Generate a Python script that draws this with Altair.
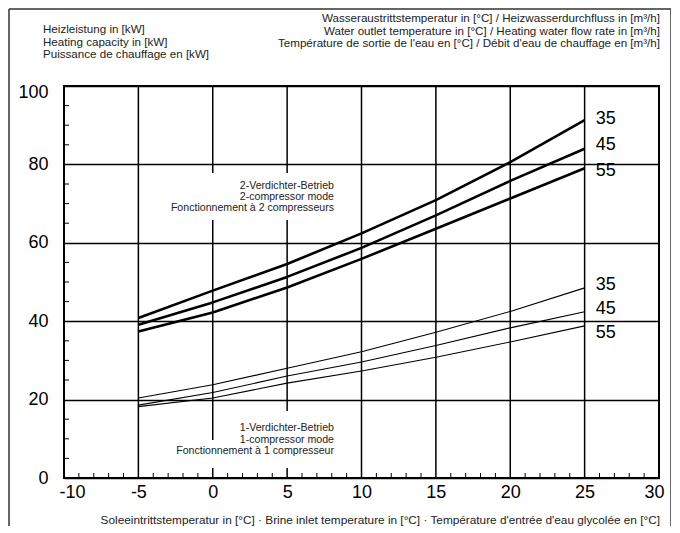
import altair as alt
import pandas as pd

FONT = "Liberation Sans"

# ---------------- data ----------------
brine_temp = [-5, 0, 5, 10, 15, 20, 25]
two_comp_35 = [40.8, 47.8, 54.6, 62.4, 70.9, 80.6, 91.3]
two_comp_45 = [39.1, 44.8, 51.3, 58.7, 67.0, 75.8, 84.0]
two_comp_55 = [37.4, 42.2, 48.6, 55.9, 63.6, 71.3, 79.0]
one_comp_35 = [20.4, 23.8, 28.0, 32.2, 37.2, 42.5, 48.5]
one_comp_45 = [18.6, 21.8, 26.0, 29.6, 33.8, 38.3, 42.4]
one_comp_55 = [18.2, 20.4, 24.2, 27.3, 30.8, 34.7, 38.8]
outlet_temps = ["35", "45", "55"]

x_ticks = [-10, -5, 0, 5, 10, 15, 20, 25, 30]
y_ticks = [0, 20, 40, 60, 80, 100]
x_grid_full = [-5, 10, 15, 20, 25]
x_grid_broken = [0, 5]
x_minor = [v for v in range(-10, 31) if v % 5 != 0]
y_minor = [v for v in range(0, 101, 5) if v % 20 != 0]

y_title_lines = ["Heizleistung in [kW]", "Heating capacity in [kW]",
                 "Puissance de chauffage en [kW]"]
series_title_lines = [
    "Wasseraustrittstemperatur in [°C] / Heizwasserdurchfluss in [m³/h]",
    "Water outlet temperature in [°C] / Heating water flow rate in [m³/h]",
    "Température de sortie de l'eau en [°C] / Débit d'eau de chauffage en [m³/h]",
]
mode2_lines = ["2-Verdichter-Betrieb", "2-compressor mode",
               "Fonctionnement à 2 compresseurs"]
mode1_lines = ["1-Verdichter-Betrieb", "1-compressor mode",
               "Fonctionnement à 1 compresseur"]
x_title = ("Soleeintrittstemperatur in [°C] · Brine inlet temperature in [°C] · "
           "Température d'entrée d'eau glycolée en [°C]")

# ---------------- tables ----------------
rows = []
for mode, arrs in [("2", [two_comp_35, two_comp_45, two_comp_55]),
                   ("1", [one_comp_35, one_comp_45, one_comp_55])]:
    for t, arr in zip(outlet_temps, arrs):
        for x, y in zip(brine_temp, arr):
            rows.append({"x": x, "y": y, "mode": mode, "series": mode + "-" + t, "temp": t})
df = pd.DataFrame(rows)

W, H = 595, 392
xs = alt.Scale(domain=[-10, 30], nice=False, zero=False)
ys = alt.Scale(domain=[0, 100], nice=False, zero=False)
one = alt.Data(values=[{}])

x_axis = alt.Axis(values=x_ticks, grid=False, ticks=False, domain=False,
                  labelFontSize=18, labelFont=FONT, labelColor="black",
                  labelPadding=5, title=None, labelFlush=True, labelFlushOffset=5,
                  labelExpr="'' + datum.value")
y_axis = alt.Axis(values=y_ticks, grid=True, gridColor="black", gridWidth=1.4,
                  gridOpacity=1, ticks=False, domain=False, labelFontSize=18,
                  labelFont=FONT, labelColor="black", labelPadding=16, title=None,
                  labelFlush=False, labelExpr="'' + datum.value",
                  labelOffset={"condition": {"test": "datum.value == 100", "value": 6},
                               "value": 0})

# vertical grid lines (two of them broken where the notes are)
vgrid = alt.Chart(pd.DataFrame({"v": x_grid_full})).mark_rule(
    color="black", strokeWidth=1.5).encode(
    x=alt.X("v:Q", scale=xs, axis=x_axis), y=alt.value(0), y2=alt.value(H))

def vseg(v, y1, y2):
    return alt.Chart(pd.DataFrame({"v": [v]})).mark_rule(
        color="black", strokeWidth=1.5).encode(
        x=alt.X("v:Q", scale=xs, axis=x_axis), y=alt.value(y1), y2=alt.value(y2))

segs = [
    vseg(x_grid_broken[0], 0, 87), vseg(x_grid_broken[0], 134, 354), vseg(x_grid_broken[0], 382, H),
    vseg(x_grid_broken[1], 0, 87), vseg(x_grid_broken[1], 134, 325), vseg(x_grid_broken[1], 382, H),
]

lines = alt.Chart(df).mark_line(color="black", strokeJoin="round").encode(
    x=alt.X("x:Q", scale=xs, axis=x_axis),
    y=alt.Y("y:Q", scale=ys, axis=y_axis),
    detail="series:N",
    strokeWidth=alt.StrokeWidth("mode:N", scale=alt.Scale(domain=["2", "1"], range=[2.6, 1.1]),
                                legend=None),
)

# inner minor ticks
xminor = alt.Chart(pd.DataFrame({"v": x_minor})).mark_rule(color="black", strokeWidth=1).encode(
    x=alt.X("v:Q", scale=xs, axis=x_axis), y=alt.value(H), y2=alt.value(H - 5))
yminor = alt.Chart(pd.DataFrame({"v": y_minor})).mark_rule(color="black", strokeWidth=1).encode(
    y=alt.Y("v:Q", scale=ys, axis=y_axis), x=alt.value(0), x2=alt.value(5))

# curve labels at line ends
label_dy = {"2-35": -1, "2-45": -4, "2-55": 3, "1-35": -3, "1-45": -3, "1-55": 7}
end = df[df["x"] == brine_temp[-1]]
labels = []
for _, r in end.iterrows():
    labels.append(alt.Chart(pd.DataFrame([r])).mark_text(
        align="left", baseline="middle", dx=11, dy=label_dy[r["series"]],
        font=FONT, fontSize=18, color="black").encode(
        x=alt.X("x:Q", scale=xs, axis=x_axis), y=alt.Y("y:Q", scale=ys, axis=y_axis),
        text="temp:N"))

def block(lines_, x, y, align, size, lh):
    return alt.Chart(one).mark_text(text=lines_, align=align, baseline="middle",
                                    font=FONT, fontSize=size, lineHeight=lh,
                                    color="#222").encode(x=alt.value(x), y=alt.value(y))

texts = [
    block(y_title_lines, -21, -56, "left", 11.6, 12.5),
    block(series_title_lines, 596, -67, "right", 11.6, 12.5),
    block(mode2_lines, 270, 100, "right", 10.6, 11),
    block(mode1_lines, 270, 342, "right", 10.6, 11.5),
    block([x_title], 596, 434, "right", 11.8, 12),
]

def rule(x1, x2, y1, y2, w=1.5):
    return alt.Chart(one).mark_rule(color="#333", strokeWidth=w).encode(
        x=alt.value(x1), x2=alt.value(x2), y=alt.value(y1), y2=alt.value(y2))

frame = [rule(-55, -55, -77, 440), rule(607, 607, -77, 440), rule(-55, 607, -77, -77)]

chart = alt.layer(vgrid, *segs, lines, xminor, yminor, *labels, *texts, *frame).properties(
    width=W, height=H,
    autosize=alt.AutoSizeParams(type="none"),
    padding={"left": 56, "top": 78, "right": 12, "bottom": 48},
).configure(font=FONT).configure_view(stroke="black", strokeWidth=2)

chart.save("out.html", embed_options={"renderer": "svg", "actions": False})
